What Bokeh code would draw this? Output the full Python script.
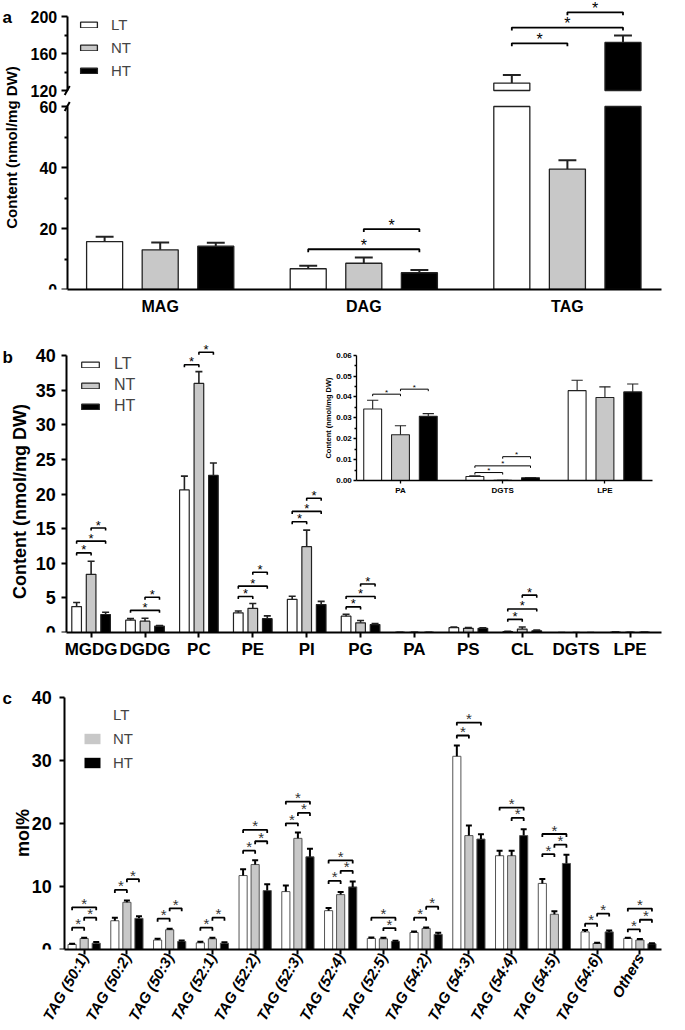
import numpy as np
from bokeh.plotting import figure
from bokeh.models import (Range1d, LinearAxis, FixedTicker, Legend, LegendItem,
                          Label, Arrow, NumeralTickFormatter)
from bokeh.layouts import column
from bokeh.embed import file_html
from bokeh.resources import INLINE
from bokeh.core.properties import value

FONT = "Liberation Sans"
GROUPS = ["LT", "NT", "HT"]
FILLS = ["#ffffff", "#c8c8c8", "#000000"]

# ---------------- data: panel a ----------------
a_cats = ["MAG", "DAG", "TAG"]
a_LT = [15.7, 6.8, 128.0]
a_LT_err = [1.6, 1.0, 8.7]
a_NT = [13.0, 8.6, 39.5]
a_NT_err = [2.4, 1.9, 2.9]
a_HT = [14.2, 5.5, 172.0]
a_HT_err = [1.1, 0.9, 7.5]
# (category, group i, group j, bracket level)
a_sig = [(1, 0, 2, 13.2), (1, 1, 2, 19.8), (2, 0, 1, 171.0), (2, 0, 2, 188.0), (2, 1, 2, 204.5)]

# ---------------- data: panel b ----------------
b_cats = ["MGDG", "DGDG", "PC", "PE", "PI", "PG", "PA", "PS", "CL", "DGTS", "LPE"]
b_LT = [3.75, 1.78, 20.6, 2.84, 4.8, 2.36, 0.0342, 0.7, 0.12, 0.0019, 0.0430]
b_LT_err = [0.58, 0.22, 2.0, 0.26, 0.44, 0.28, 0.0042, 0.1, 0.05, 0.0003, 0.0050]
b_NT = [8.4, 1.63, 36.0, 3.5, 12.4, 1.4, 0.0219, 0.6, 0.5, 0.0001, 0.0397]
b_NT_err = [1.9, 0.44, 1.7, 0.7, 2.4, 0.33, 0.0043, 0.12, 0.3, 0.0, 0.0051]
b_HT = [2.6, 0.91, 22.7, 2.0, 4.04, 1.15, 0.0307, 0.6, 0.25, 0.0013, 0.0424]
b_HT_err = [0.33, 0.1, 1.8, 0.4, 0.46, 0.15, 0.0013, 0.08, 0.1, 0.0001, 0.0038]
b_sig = [(0, 0, 1, 11.5), (0, 0, 2, 13.2), (0, 1, 2, 15.1),
         (1, 0, 2, 3.2), (1, 1, 2, 5.1),
         (2, 0, 1, 38.7), (2, 1, 2, 40.5),
         (3, 0, 1, 5.2), (3, 0, 2, 6.7), (3, 1, 2, 8.7),
         (4, 0, 1, 16.0), (4, 0, 2, 17.5), (4, 1, 2, 19.4),
         (5, 0, 1, 3.7), (5, 0, 2, 5.2), (5, 1, 2, 7.0),
         (8, 0, 1, 1.9), (8, 0, 2, 3.4), (8, 1, 2, 5.4)]
inset_cats = ["PA", "DGTS", "LPE"]
inset_sig = [(0, 0, 1, 0.0413), (0, 1, 2, 0.0437),
             (1, 0, 1, 0.0038), (1, 0, 2, 0.0070), (1, 1, 2, 0.0114)]

# ---------------- data: panel c ----------------
c_cats = ["TAG (50:1)", "TAG (50:2)", "TAG (50:3)", "TAG (52:1)", "TAG (52:2)", "TAG (52:3)",
          "TAG (52:4)", "TAG (52:5)", "TAG (54:2)", "TAG (54:3)", "TAG (54:4)", "TAG (54:5)",
          "TAG (54:6)", "Others"]
c_LT = [0.8, 4.57, 1.5, 1.06, 11.75, 9.2, 6.17, 1.76, 2.7, 30.7, 14.9, 10.5, 2.8, 1.76]
c_LT_err = [0.1, 0.48, 0.2, 0.16, 1.0, 0.96, 0.43, 0.14, 0.17, 1.7, 0.8, 0.7, 0.3, 0.1]
c_NT = [1.75, 7.5, 3.14, 1.7, 13.5, 17.66, 8.72, 1.7, 3.35, 18.1, 14.9, 5.6, 0.96, 1.5]
c_NT_err = [0.11, 0.3, 0.16, 0.16, 0.7, 0.94, 0.43, 0.16, 0.15, 1.6, 0.8, 0.46, 0.1, 0.15]
c_HT = [1.0, 4.95, 1.28, 1.0, 9.36, 14.73, 9.95, 1.28, 2.4, 17.55, 18.1, 13.67, 2.8, 0.9]
c_HT_err = [0.2, 0.35, 0.16, 0.17, 1.0, 1.27, 0.85, 0.1, 0.26, 0.75, 1.0, 1.38, 0.2, 0.1]
c_sig = [(0, 0, 1, 3.46), (0, 1, 2, 5.05), (0, 0, 2, 6.7),
         (1, 0, 1, 9.47), (1, 1, 2, 11.17),
         (2, 0, 1, 4.9), (2, 1, 2, 6.54),
         (3, 0, 1, 3.46), (3, 1, 2, 5.05),
         (4, 0, 1, 15.7), (4, 1, 2, 17.2), (4, 0, 2, 19.0),
         (5, 0, 1, 20.05), (5, 1, 2, 21.7), (5, 0, 2, 23.5),
         (6, 0, 1, 10.9), (6, 1, 2, 12.5), (6, 0, 2, 14.15),
         (7, 1, 2, 3.4), (7, 0, 2, 5.05),
         (8, 0, 1, 5.05), (8, 1, 2, 6.8),
         (9, 0, 1, 34.0), (9, 0, 2, 36.06),
         (10, 1, 2, 20.9), (10, 0, 2, 22.55),
         (11, 0, 1, 15.16), (11, 1, 2, 16.65), (11, 0, 2, 18.35),
         (12, 0, 1, 4.1), (12, 1, 2, 5.7),
         (13, 0, 1, 3.2), (13, 1, 2, 4.73), (13, 0, 2, 6.5)]

W = 685
AXIS_PX = 66.7  # page x of the y axes


def make_fig(h, right, top, bottom, xr, yr):
    p = figure(width=W, height=h, x_range=xr, y_range=yr, x_axis_type=None, y_axis_type=None,
               output_backend="svg", toolbar_location=None,
               min_border_left=0, min_border_right=right,
               min_border_top=top, min_border_bottom=bottom)
    p.outline_line_color = None
    return p


def add_axis(p, side, ticks, minor=(), overrides=None, bounds=None, size=14, style="bold",
             lw=2, tick_out=5, minor_out=3, standoff=5, label=None, label_size=14,
             label_standoff=5, fixed=None, xname="default", yname="default", orient=None, fmt=None):
    ax = LinearAxis(ticker=FixedTicker(ticks=list(ticks), minor_ticks=list(minor)),
                    x_range_name=xname, y_range_name=yname)
    ax.axis_line_width = lw
    ax.axis_line_color = "black"
    ax.major_tick_line_width = lw
    ax.major_tick_out = tick_out
    ax.major_tick_in = 0
    ax.minor_tick_line_width = lw
    ax.minor_tick_out = minor_out
    ax.minor_tick_in = 0
    ax.major_label_text_font = FONT
    ax.major_label_text_font_size = f"{size}px"
    ax.major_label_text_font_style = style
    ax.major_label_text_color = "black"
    ax.major_label_standoff = standoff
    if overrides:
        ax.major_label_overrides = overrides
    if bounds is not None:
        ax.bounds = bounds
    if fixed is not None:
        ax.fixed_location = fixed
    if orient is not None:
        ax.major_label_orientation = orient
    if fmt is not None:
        ax.formatter = fmt
    if label:
        ax.axis_label = label
        ax.axis_label_text_font = FONT
        ax.axis_label_text_font_size = f"{label_size}px"
        ax.axis_label_text_font_style = "bold"
        ax.axis_label_text_color = "black"
        ax.axis_label_standoff = label_standoff
    p.add_layout(ax, side)
    return ax


def draw_bars(p, xs, tops, fill, width, line_color, lw, bottom=0, **kw):
    return p.vbar(x=xs, top=tops, bottom=bottom, width=width, fill_color=fill,
                  line_color=line_color, line_width=lw, **kw)


def draw_err(p, xs, tops, errs, cap, lw, color="black", **kw):
    x = np.asarray(xs, float)
    t = np.asarray(tops, float)
    e = np.asarray(errs, float)
    p.segment(x0=x, y0=t, x1=x, y1=t + e, line_width=lw, line_color=color, **kw)
    p.segment(x0=x - cap, y0=t + e, x1=x + cap, y1=t + e, line_width=lw, line_color=color, **kw)


def draw_sig(p, sig, offs, tick, star_px, lw, color="black", star_color="black", yoff=-4, **kw):
    xs, ys, sx, sy = [], [], [], []
    for c, i, j, y in sig:
        xl, xr = c + offs[i], c + offs[j]
        xs.append([xl, xl, xr, xr])
        ys.append([y - tick, y, y, y - tick])
        sx.append((xl + xr) / 2)
        sy.append(y)
    p.multi_line(xs, ys, line_color=color, line_width=lw, **kw)
    p.text(sx, sy, text=["*"] * len(sx), text_align="center", text_baseline="alphabetic",
           y_offset=yoff, text_font=value(FONT), text_font_size=f"{star_px}px",
           text_color=star_color, **kw)


def add_text(p, x, y, txt, size, angle=0.0, align="left", baseline="alphabetic", **kw):
    p.add_layout(Label(x=x, y=y, text=txt, angle=angle, text_font=FONT, text_font_style="bold",
                       text_font_size=f"{size}px", text_align=align, text_baseline=baseline,
                       text_color="black", **kw))


# ======================= panel a =======================
A_TOP, A_H = 0, 320
a_bot_px, a_right_px = 289.0, 661.0
a_unit, a_c0 = 203.6, 159.7          # px per category, page x of first category
ppu_lo = (289.0 - 106.0) / 60        # lower segment px per unit
ppu_hi = (90.0 - 16.0) / 80          # upper segment px per unit
a_fh = a_bot_px - A_TOP
a_xr = Range1d(-a_c0 / a_unit, (a_right_px - a_c0) / a_unit)
a_yr = Range1d(0, a_fh / ppu_lo)
pa = make_fig(A_H, W - int(a_right_px), 0, A_H - int(a_fh), a_xr, a_yr)
hi_start = 120 - (a_bot_px - 90.0) / ppu_hi
pa.extra_y_ranges = {"up": Range1d(hi_start, hi_start + a_fh / ppu_hi)}
ax_a = (AXIS_PX - a_c0) / a_unit


def a_px(px, py):
    return (px - a_c0) / a_unit, (a_bot_px - py) / ppu_lo


a_offs = [-0.273, 0.0, 0.273]
a_w = 0.177
LOW_TOP, HIGH_BOT = 60, 120
a_vals = [a_LT, a_NT, a_HT]
a_errs = [a_LT_err, a_NT_err, a_HT_err]
a_rends = []
for g in range(3):
    xs = np.arange(len(a_cats)) + a_offs[g]
    v = np.asarray(a_vals[g], float)
    e = np.asarray(a_errs[g], float)
    r = draw_bars(pa, xs, np.minimum(v, LOW_TOP), FILLS[g], a_w, "#222222", 1.3)
    a_rends.append(r)
    hi = v > LOW_TOP
    if hi.any():
        draw_bars(pa, xs[hi], v[hi], FILLS[g], a_w, "#222222", 1.3, bottom=HIGH_BOT, y_range_name="up")
        draw_err(pa, xs[hi], v[hi], e[hi], 0.044, 2, "#222222", y_range_name="up")
    lo = ~hi
    draw_err(pa, xs[lo], v[lo], e[lo], 0.044, 2, "#222222")

draw_sig(pa, [s for s in a_sig if s[3] < LOW_TOP], a_offs, 3 / ppu_lo, 16, 1.8)
draw_sig(pa, [s for s in a_sig if s[3] >= LOW_TOP], a_offs, 3 / ppu_hi, 16, 1.8, y_range_name="up")

add_axis(pa, "below", range(len(a_cats)), overrides={i: c for i, c in enumerate(a_cats)},
         bounds=(ax_a, a_xr.end), size=16, tick_out=0, standoff=8, lw=2)
add_axis(pa, "left", [0, 20, 40, 60], minor=[10, 30, 50], bounds=(0, 60), size=16,
         tick_out=6, minor_out=3, standoff=4, fixed=ax_a)
add_axis(pa, "left", [120, 160, 200], minor=[140, 180], bounds=(120, 200), size=16,
         tick_out=6, minor_out=3, standoff=4, fixed=ax_a, yname="up")
# axis break marks
for yb, rng, ppu in [(LOW_TOP, "default", ppu_lo), (HIGH_BOT, "up", ppu_hi)]:
    pa.add_layout(Arrow(x_start=ax_a - 2.5 / a_unit, y_start=yb - 4.5 / ppu, x_end=ax_a + 2.5 / a_unit,
                        y_end=yb + 4.5 / ppu, start=None, end=None, line_width=2,
                        line_color="black", y_range_name=rng))
x_, y_ = a_px(10.5, 147)
add_text(pa, x_, y_, "Content (nmol/mg DW)", 15, angle=np.pi / 2, align="center", baseline="middle")
x_, y_ = a_px(2, 17)
add_text(pa, x_, y_, "a", 17)
leg_a = Legend(items=[LegendItem(label=GROUPS[g], renderers=[a_rends[g]]) for g in range(3)],
               location=(73, 205), glyph_width=21, glyph_height=7, label_standoff=12,
               spacing=6, padding=5, margin=0, label_text_font=FONT, label_text_font_size="15px",
               border_line_alpha=0, background_fill_alpha=0)
pa.add_layout(leg_a)

# ======================= panel b =======================
B_TOP, B_H = 320, 348
b_top_px, b_bot_px, b_right_px = 334.0, 632.0, 666.0
b_unit, b_c0 = 54.3, 91.3
b_ppu = 6.92
b_fh = b_bot_px - b_top_px
b_xr = Range1d(-b_c0 / b_unit, (b_right_px - b_c0) / b_unit)
pb = make_fig(B_H, W - int(b_right_px), int(b_top_px - B_TOP), int(B_TOP + B_H - b_bot_px),
              b_xr, Range1d(0, b_fh / b_ppu))
ax_b = (AXIS_PX - b_c0) / b_unit


def b_px(px, py):
    return (px - b_c0) / b_unit, (b_bot_px - py) / b_ppu


b_offs = [-0.269, 0.0, 0.269]
b_w = 0.179
b_vals = [b_LT, b_NT, b_HT]
b_errs = [b_LT_err, b_NT_err, b_HT_err]
b_rends = []
for g in range(3):
    xs = np.arange(len(b_cats)) + b_offs[g]
    b_rends.append(draw_bars(pb, xs, b_vals[g], FILLS[g], b_w, "#222222", 1.2))
    draw_err(pb, xs, b_vals[g], b_errs[g], 0.065, 1.6, "#222222")
draw_sig(pb, b_sig, b_offs, 2.5 / b_ppu, 13, 1.6, yoff=-3)
add_axis(pb, "below", range(len(b_cats)), overrides={i: c for i, c in enumerate(b_cats)},
         bounds=(ax_b, b_xr.end), size=17, tick_out=5, standoff=2, lw=2)
add_axis(pb, "left", range(0, 45, 5), bounds=(0, 40), size=18, tick_out=5, standoff=6, fixed=ax_b)
x_, y_ = b_px(20, 501)
add_text(pb, x_, y_, "Content (nmol/mg DW)", 18, angle=np.pi / 2, align="center", baseline="middle")
x_, y_ = b_px(2, 357)
add_text(pb, x_, y_, "b", 17)
leg_b = Legend(items=[LegendItem(label=GROUPS[g], renderers=[b_rends[g]]) for g in range(3)],
               location=(74, 212), glyph_width=22, glyph_height=7, label_standoff=13,
               spacing=3, padding=5, margin=0, label_text_font=FONT, label_text_font_size="16px",
               border_line_alpha=0, background_fill_alpha=0)
pb.add_layout(leg_b)

# ---- inset (drawn in panel b through its own ranges) ----
i_unit, i_c0 = 103.0, 403.0
i_ppu, i_zero = 2090.0, 480.0
pb.extra_x_ranges = {"ix": Range1d(-i_c0 / i_unit, (b_right_px - i_c0) / i_unit)}
pb.extra_y_ranges = {"iy": Range1d(-(b_bot_px - i_zero) / i_ppu, (i_zero - b_top_px) / i_ppu)}
i_idx = [b_cats.index(c) for c in inset_cats]
i_offs = [-0.272, 0.0, 0.272]
for g in range(3):
    xs = np.arange(len(inset_cats)) + i_offs[g]
    vals = [b_vals[g][k] for k in i_idx]
    errs = [b_errs[g][k] for k in i_idx]
    draw_bars(pb, xs, vals, FILLS[g], 0.175, "#222222", 1.1, x_range_name="ix", y_range_name="iy")
    draw_err(pb, xs, vals, errs, 0.055, 1.1, "#222222", x_range_name="ix", y_range_name="iy")
draw_sig(pb, inset_sig, i_offs, 2 / i_ppu, 8, 1.0, yoff=-2, x_range_name="ix", y_range_name="iy")
i_axis_x = (359.0 - i_c0) / i_unit
add_axis(pb, "left", [0, 0.01, 0.02, 0.03, 0.04, 0.05, 0.06],
         minor=[0.005, 0.015, 0.025, 0.035, 0.045, 0.055], bounds=(0, 0.06), size=8,
         lw=1.3, tick_out=3, minor_out=2, standoff=2, label="Content (nmol/mg DW)",
         label_size=7.5, label_standoff=0, fixed=i_axis_x, xname="ix", yname="iy",
         fmt=NumeralTickFormatter(format="0.00"))
add_axis(pb, "below", range(len(inset_cats)), overrides={i: c for i, c in enumerate(inset_cats)},
         bounds=(i_axis_x, (657.0 - i_c0) / i_unit), size=8, lw=1.3, tick_out=3, standoff=2,
         fixed=0, xname="ix", yname="iy")

# ======================= panel c =======================
C_TOP, C_H = 668, 362
c_top_px, c_bot_px = 686.0, 950.0
c_unit, c_c0 = 44.3, 86.7
c_ppu = (950.0 - 697.3) / 40
c_fh = c_bot_px - c_top_px
c_xr = Range1d(-c_c0 / c_unit, (W - c_c0) / c_unit)
pc = make_fig(C_H, 0, int(c_top_px - C_TOP), int(C_TOP + C_H - c_bot_px), c_xr, Range1d(0, c_fh / c_ppu))
ax_c = (AXIS_PX - c_c0) / c_unit


def c_px(px, py):
    return (px - c_c0) / c_unit, (c_bot_px - py) / c_ppu


c_offs = [-0.282, 0.0, 0.282]
c_w = 0.19
c_vals = [c_LT, c_NT, c_HT]
c_errs = [c_LT_err, c_NT_err, c_HT_err]
for g in range(3):
    xs = np.arange(len(c_cats)) + c_offs[g]
    draw_bars(pc, xs, c_vals[g], FILLS[g], c_w, "#555555", 1.0)
    draw_err(pc, xs, c_vals[g], c_errs[g], 0.07, 2, "black")
draw_sig(pc, c_sig, c_offs, 3 / c_ppu, 15, 1.8, star_color="#333333")
# legend swatches without outlines (one hidden NaN-height bar each, as in the reference key)
leg_c_r = [pc.vbar(x=[0], top=[np.nan], width=0.1, fill_color=FILLS[g], line_color=None)
           for g in range(3)]
add_axis(pc, "below", range(len(c_cats)), overrides={i: c for i, c in enumerate(c_cats)},
         bounds=(ax_c, c_xr.end), size=15, style="bold italic", tick_out=5, standoff=0, lw=2,
         orient=np.deg2rad(60))
add_axis(pc, "left", [0, 10, 20, 30, 40], bounds=(0, 40), size=18, tick_out=5, standoff=8, fixed=ax_c)
x_, y_ = c_px(23, 833)
add_text(pc, x_, y_, "mol%", 18, angle=np.pi / 2, align="center", baseline="middle")
x_, y_ = c_px(2, 698)
add_text(pc, x_, y_, "c", 17)
leg_c = Legend(items=[LegendItem(label=GROUPS[g], renderers=[leg_c_r[g]]) for g in range(3)],
               location=(77, 173), glyph_width=20, glyph_height=13, label_standoff=11,
               spacing=7, padding=5, margin=0, label_text_font=FONT, label_text_font_size="15px",
               border_line_alpha=0, background_fill_alpha=0)
pc.add_layout(leg_c)

layout = column(pa, pb, pc, spacing=0)
open("out.html", "w").write(file_html(layout, INLINE))
